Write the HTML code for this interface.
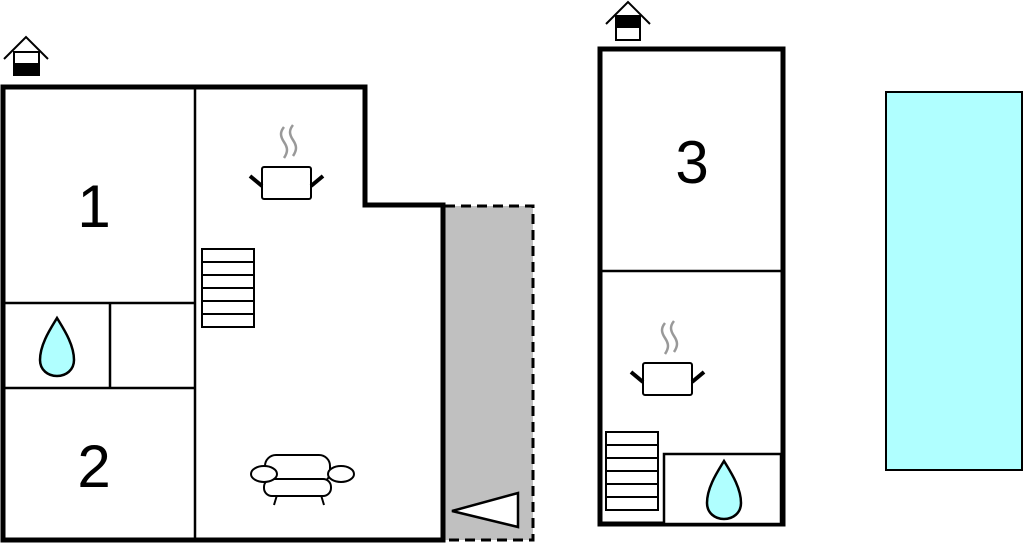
<!DOCTYPE html>
<html><head><meta charset="utf-8"><style>
html,body{margin:0;padding:0;background:#fff;width:1024px;height:554px;overflow:hidden}
svg{display:block}
text{font-family:"Liberation Sans",Arial,sans-serif;fill:#000}
</style></head><body>
<svg width="1024" height="554" viewBox="0 0 1024 554" xmlns="http://www.w3.org/2000/svg">
<defs>
<g id="pot">
  <path d="M284,127 c-4,5 -4,9 0,15 c4,6 4,10 0,16" fill="none" stroke="#999" stroke-width="2.5"/>
  <path d="M293,125 c-4,5 -4,9 0,15 c4,6 4,10 0,16" fill="none" stroke="#999" stroke-width="2.5"/>
  <rect x="262" y="167" width="49" height="32" rx="2" fill="#fff" stroke="#000" stroke-width="2"/>
  <line x1="250" y1="176" x2="262" y2="186" stroke="#000" stroke-width="4"/>
  <line x1="311" y1="186" x2="323" y2="176" stroke="#000" stroke-width="4"/>
</g>
<g id="stairs">
  <rect x="0" y="0" width="52" height="78" fill="#fff" stroke="#000" stroke-width="2"/>
  <line x1="0" y1="13" x2="52" y2="13" stroke="#000" stroke-width="2"/>
  <line x1="0" y1="26" x2="52" y2="26" stroke="#000" stroke-width="2"/>
  <line x1="0" y1="39" x2="52" y2="39" stroke="#000" stroke-width="2"/>
  <line x1="0" y1="52" x2="52" y2="52" stroke="#000" stroke-width="2"/>
  <line x1="0" y1="65" x2="52" y2="65" stroke="#000" stroke-width="2"/>
</g>
<path id="drop" d="M0,0 C-6,10 -17,26 -17,42 C-17,52 -9,58 0,58 C9,58 17,52 17,42 C17,26 6,10 0,0 Z" fill="#b0ffff" stroke="#000" stroke-width="2.5"/>
</defs>

<!-- patio -->
<rect x="445" y="206" width="88" height="334" fill="#c0c0c0"/>
<path d="M445,206 H533 V540 H445" fill="none" stroke="#000" stroke-width="3" stroke-dasharray="10,6"/>
<polygon points="452,511 518,493 518,527" fill="#fff" stroke="#000" stroke-width="2.5"/>

<!-- left building -->
<path d="M3,87 H365 V205 H443 V540 H3 Z" fill="#fff" stroke="#000" stroke-width="5"/>
<line x1="195" y1="87" x2="195" y2="540" stroke="#000" stroke-width="2.5"/>
<line x1="3" y1="303" x2="195" y2="303" stroke="#000" stroke-width="2.5"/>
<line x1="3" y1="388" x2="195" y2="388" stroke="#000" stroke-width="2.5"/>
<line x1="110" y1="303" x2="110" y2="388" stroke="#000" stroke-width="2.5"/>
<text x="94" y="227" font-size="60" text-anchor="middle">1</text>
<text x="94" y="487" font-size="60" text-anchor="middle">2</text>
<use href="#drop" x="57" y="318"/>
<use href="#stairs" x="202" y="249"/>
<use href="#pot"/>
<!-- sofa -->
<g fill="#fff" stroke="#000" stroke-width="2">
  <line x1="277" y1="495" x2="274" y2="505"/>
  <line x1="321" y1="495" x2="324" y2="505"/>
  <rect x="265" y="455" width="65" height="28" rx="11"/>
  <rect x="264" y="479" width="67" height="17" rx="8"/>
  <ellipse cx="264" cy="474" rx="13" ry="8"/>
  <ellipse cx="341" cy="474" rx="13" ry="8"/>
</g>

<!-- left house icon -->
<polyline points="4,59 26,37 48,59" fill="none" stroke="#000" stroke-width="2"/>
<rect x="14" y="52" width="25" height="23" fill="#fff" stroke="#000" stroke-width="2"/>
<rect x="13" y="63" width="27" height="13" fill="#000"/>

<!-- right house icon -->
<polyline points="606,24 628,2 650,24" fill="none" stroke="#000" stroke-width="2"/>
<rect x="616" y="16" width="24" height="24" fill="#fff" stroke="#000" stroke-width="2"/>
<rect x="615" y="15" width="26" height="13" fill="#000"/>

<!-- right building -->
<rect x="600" y="49" width="183" height="475" fill="#fff" stroke="#000" stroke-width="5"/>
<line x1="600" y1="271" x2="783" y2="271" stroke="#000" stroke-width="2.5"/>
<text x="692" y="183" font-size="60" text-anchor="middle">3</text>
<rect x="664" y="454" width="117" height="70" fill="#fff" stroke="#000" stroke-width="2.5"/>
<use href="#drop" x="724" y="461"/>
<use href="#stairs" x="606" y="432"/>
<use href="#pot" x="381" y="196"/>

<!-- pool -->
<rect x="886" y="92" width="136" height="378" fill="#b0ffff" stroke="#000" stroke-width="2"/>
</svg>
</body></html>
